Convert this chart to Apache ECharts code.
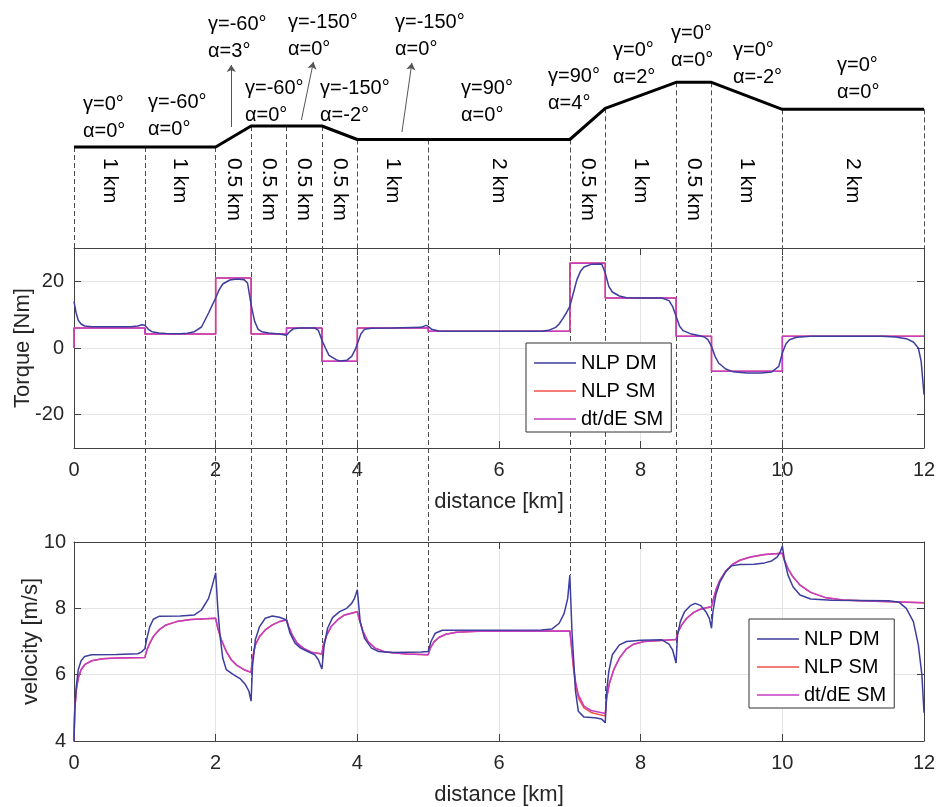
<!DOCTYPE html>
<html><head><meta charset="utf-8">
<script src="https://cdn.jsdelivr.net/npm/echarts@6/dist/echarts.min.js"></script>
<style>html,body{margin:0;padding:0;background:#fff}#c{width:938px;height:807px}</style>
</head><body><div id="c"></div>
<script>
// ---------------- data ----------------
const breakpoints = [0,1,2,2.5,3,3.5,4,5,7,7.5,8.5,9,10,12];
const profileElevation = [0,0,0,21,21,21,7.5,7.5,7.5,38.7,64.7,64.7,37.7,37.7];
const segmentLabels = ['1 km','1 km','0.5 km','0.5 km','0.5 km','0.5 km','1 km','2 km','0.5 km','1 km','0.5 km','1 km','2 km'];
const angleLabels = ['γ=0°\nα=0°','γ=-60°\nα=0°','γ=-60°\nα=3°','γ=-60°\nα=0°','γ=-150°\nα=0°','γ=-150°\nα=-2°','γ=-150°\nα=0°','γ=90°\nα=0°','γ=90°\nα=4°','γ=0°\nα=2°','γ=0°\nα=0°','γ=0°\nα=-2°','γ=0°\nα=0°'];
const angleLabelKm = [0.127,1.045,1.892,2.414,3.02,3.473,4.532,5.464,6.692,7.609,8.428,9.304,10.772];
const angleLabelElev = [56,58,136,72,138,72,138,72,84,110,127,110,95];
const arrowFrom = [[2.22,20],[3.21,27],[4.63,15]];
const arrowTo = [[2.22,82],[3.38,85],[4.77,84]];

const distanceTicks = [0,2,4,6,8,10,12];
const torqueTicks = [-20,0,20];
const velocityTicks = [4,6,8,10];

const torqueStart = 0;
const torqueNLPSM = [6,4.2,21,4.2,6,-4,6,5,25.5,15,3.5,-7,3.5];
const torqueDtdESM = [6,4.2,21,4.2,6,-4,6,5,25.4,15,3.5,-7,3.5];
const torqueNLPDM = [[0,14],[0.03,10.5],[0.06,8.3],[0.1,7.2],[0.15,6.6],[0.25,6.4],[0.5,6.35],[0.8,6.4],[0.9,6.6],[0.96,7.0],[1.0,6.8],[1.05,5.6],[1.1,4.9],[1.2,4.5],[1.3,4.35],[1.5,4.3],[1.6,4.4],[1.7,4.9],[1.8,6.3],[1.9,10.5],[1.95,12.8],[2.0,15.0],[2.05,17.5],[2.1,19.2],[2.2,20.4],[2.3,20.7],[2.4,20.5],[2.45,19.5],[2.5,13],[2.55,8],[2.6,5.6],[2.65,4.9],[2.75,4.5],[2.9,4.2],[3.0,3.8],[3.05,5.0],[3.1,5.8],[3.2,6.0],[3.4,6.0],[3.45,5.3],[3.5,2.3],[3.55,0],[3.6,-2.2],[3.7,-3.5],[3.75,-3.9],[3.85,-3.7],[3.92,-2.5],[3.97,-0.5],[4.0,1.3],[4.05,4.2],[4.1,5.6],[4.2,5.95],[4.5,6.0],[4.9,6.2],[4.97,6.8],[5.0,6.5],[5.05,5.6],[5.15,5.1],[5.3,5.0],[6.6,5.0],[6.7,5.3],[6.8,6.2],[6.85,7.2],[6.9,8.8],[6.95,10.5],[7.0,12.5],[7.05,16.5],[7.1,20.5],[7.15,23],[7.2,24.3],[7.3,25.1],[7.45,25.2],[7.5,22.5],[7.55,18.5],[7.6,16.8],[7.7,15.6],[7.8,15.1],[8.0,15.0],[8.3,15.0],[8.4,14.2],[8.45,12.5],[8.5,9.5],[8.55,6.5],[8.6,5.2],[8.7,4.3],[8.8,3.8],[8.9,3.3],[8.95,2.5],[9.0,0.5],[9.05,-2.5],[9.1,-4.5],[9.2,-6.3],[9.3,-7.1],[9.5,-7.5],[9.7,-7.5],[9.85,-7.2],[9.95,-5.5],[10.0,-1.5],[10.05,1.2],[10.1,2.5],[10.2,3.2],[10.4,3.5],[11.4,3.5],[11.6,3.3],[11.75,2.8],[11.85,1.8],[11.92,0],[11.96,-4],[12.0,-14]];

const velocityNLPDM = [[0,4.0],[0.01,4.9],[0.03,5.6],[0.06,6.15],[0.1,6.42],[0.15,6.55],[0.25,6.6],[0.6,6.61],[0.9,6.63],[0.95,6.68],[1.0,6.78],[1.03,7.1],[1.07,7.45],[1.12,7.67],[1.2,7.76],[1.5,7.77],[1.7,7.8],[1.8,7.95],[1.9,8.3],[1.95,8.67],[2.0,9.07],[2.03,8.0],[2.06,7.2],[2.1,6.5],[2.15,6.15],[2.25,6.0],[2.35,5.87],[2.42,5.7],[2.47,5.5],[2.5,5.2],[2.52,6.25],[2.56,7.05],[2.62,7.45],[2.7,7.7],[2.8,7.77],[2.9,7.73],[3.0,7.65],[3.05,7.25],[3.12,6.95],[3.2,6.8],[3.3,6.7],[3.4,6.6],[3.45,6.45],[3.5,6.17],[3.53,6.85],[3.58,7.4],[3.65,7.72],[3.75,7.9],[3.85,8.0],[3.92,8.15],[3.96,8.3],[4.0,8.56],[4.04,7.6],[4.1,7.1],[4.2,6.8],[4.3,6.7],[4.5,6.67],[4.9,6.68],[5.0,6.7],[5.04,7.0],[5.1,7.25],[5.2,7.34],[6.6,7.35],[6.75,7.38],[6.85,7.55],[6.92,7.85],[6.97,8.3],[7.0,9.0],[7.03,7.3],[7.08,5.5],[7.12,4.9],[7.2,4.72],[7.35,4.7],[7.45,4.66],[7.5,4.55],[7.52,5.5],[7.55,6.1],[7.6,6.6],[7.7,6.9],[7.8,7.0],[8.0,7.04],[8.3,7.05],[8.4,6.92],[8.45,6.75],[8.5,6.35],[8.52,7.2],[8.56,7.6],[8.62,7.9],[8.7,8.08],[8.77,8.15],[8.85,8.08],[8.92,7.9],[8.97,7.7],[9.0,7.4],[9.02,7.9],[9.06,8.4],[9.12,8.8],[9.2,9.1],[9.28,9.28],[9.4,9.32],[9.6,9.33],[9.75,9.37],[9.85,9.43],[9.93,9.55],[9.97,9.7],[10.0,9.88],[10.03,9.45],[10.08,9.0],[10.15,8.65],[10.25,8.4],[10.4,8.28],[10.7,8.24],[11.5,8.23],[11.65,8.18],[11.75,8.0],[11.85,7.6],[11.92,6.9],[11.97,6.0],[12.0,4.85]];

const velocityNLPSM = [[0,4.0],[0.01,4.9],[0.03,5.5],[0.06,5.9],[0.1,6.15],[0.15,6.3],[0.25,6.42],[0.4,6.48],[0.6,6.5],[1.0,6.52],[1.03,6.75],[1.07,6.95],[1.12,7.15],[1.2,7.35],[1.3,7.5],[1.45,7.6],[1.65,7.66],[2.0,7.7],[2.03,7.4],[2.08,7.05],[2.15,6.7],[2.22,6.45],[2.3,6.28],[2.4,6.15],[2.5,6.07],[2.52,6.5],[2.56,6.9],[2.62,7.15],[2.7,7.35],[2.8,7.5],[2.9,7.6],[3.0,7.65],[3.03,7.45],[3.08,7.2],[3.15,6.95],[3.25,6.78],[3.35,6.68],[3.5,6.62],[3.52,6.9],[3.57,7.2],[3.63,7.45],[3.72,7.65],[3.82,7.8],[4.0,7.9],[4.03,7.65],[4.08,7.3],[4.15,7.0],[4.25,6.8],[4.4,6.68],[4.7,6.62],[5.0,6.6],[5.03,6.8],[5.08,6.98],[5.15,7.12],[5.25,7.22],[5.4,7.28],[5.7,7.31],[7.0,7.32],[7.02,6.9],[7.05,6.2],[7.08,5.7],[7.12,5.3],[7.2,5.0],[7.3,4.86],[7.5,4.75],[7.52,5.3],[7.56,5.75],[7.62,6.15],[7.7,6.5],[7.8,6.78],[7.9,6.92],[8.05,7.0],[8.5,7.06],[8.53,7.3],[8.58,7.5],[8.65,7.7],[8.75,7.88],[8.85,7.98],[9.0,8.05],[9.03,8.3],[9.07,8.6],[9.12,8.85],[9.2,9.12],[9.3,9.33],[9.4,9.45],[9.55,9.55],[9.75,9.62],[10.0,9.66],[10.03,9.45],[10.08,9.2],[10.15,8.95],[10.25,8.7],[10.4,8.48],[10.6,8.33],[10.85,8.25],[11.2,8.22],[12.0,8.17]];

const velocityDtdESM = [[0,4.0],[0.01,4.9],[0.03,5.5],[0.06,5.9],[0.1,6.15],[0.15,6.3],[0.25,6.42],[0.4,6.48],[0.6,6.5],[1.0,6.52],[1.03,6.75],[1.07,6.95],[1.12,7.15],[1.2,7.35],[1.3,7.5],[1.45,7.6],[1.65,7.66],[2.0,7.7],[2.03,7.4],[2.08,7.05],[2.15,6.7],[2.22,6.45],[2.3,6.28],[2.4,6.15],[2.5,6.07],[2.52,6.5],[2.56,6.9],[2.62,7.15],[2.7,7.35],[2.8,7.5],[2.9,7.6],[3.0,7.65],[3.03,7.45],[3.08,7.2],[3.15,6.95],[3.25,6.78],[3.35,6.68],[3.5,6.62],[3.52,6.9],[3.57,7.2],[3.63,7.45],[3.72,7.65],[3.82,7.8],[4.0,7.9],[4.03,7.65],[4.08,7.3],[4.15,7.0],[4.25,6.8],[4.4,6.68],[4.7,6.62],[5.0,6.6],[5.03,6.8],[5.08,6.98],[5.15,7.12],[5.25,7.22],[5.4,7.28],[5.7,7.31],[7.0,7.32],[7.02,6.95],[7.05,6.3],[7.08,5.8],[7.12,5.4],[7.2,5.05],[7.3,4.92],[7.5,4.83],[7.52,5.3],[7.56,5.75],[7.62,6.15],[7.7,6.5],[7.8,6.78],[7.9,6.92],[8.05,7.0],[8.5,7.06],[8.53,7.3],[8.58,7.5],[8.65,7.7],[8.75,7.88],[8.85,7.98],[9.0,8.05],[9.03,8.3],[9.07,8.6],[9.12,8.85],[9.2,9.12],[9.3,9.33],[9.4,9.45],[9.55,9.55],[9.75,9.62],[10.0,9.66],[10.03,9.45],[10.08,9.2],[10.15,8.95],[10.25,8.7],[10.4,8.48],[10.6,8.33],[10.85,8.25],[11.2,8.22],[12.0,8.17]];

// ---------------- helpers ----------------
const FONT = '"Liberation Sans", Arial, Helvetica, sans-serif';
const TXT = '#262626';
const AX = '#404040';
const GRIDC = '#e4e4e4';
const DASH = {color:'#4d4d4d', width:1, type:[5,3], opacity:1};
const C_DM = '#3d3d9e', C_SM = '#f0504a', C_DT = '#c43ec4';

function stepPoints(start, vals){
  const pts = [[breakpoints[0], start]];
  vals.forEach((v,i)=>{ pts.push([breakpoints[i], v]); pts.push([breakpoints[i+1], v]); });
  return pts;
}
function valueAt(series, x){
  let best = null;
  series.forEach(p=>{ if (p[0]===x && (best===null || p[1]>best)) best = p[1]; });
  return best;
}
const inner = breakpoints.slice(1,-1);

const L = 74, R = 14;
const gridBase = {left:L, right:R, containLabel:false, outerBoundsMode:'none'};
const grids = [
  Object.assign({top:0, height:248}, gridBase),     // profile
  Object.assign({top:248, height:200}, gridBase),   // torque
  Object.assign({top:248, height:294}, gridBase),   // guide lines torque->velocity
  Object.assign({top:542, height:199}, gridBase)    // velocity
];
function hiddenX(g){ return {type:'value', gridIndex:g, min:0, max:12, show:false}; }
function mainX(g){
  return {type:'value', gridIndex:g, min:distanceTicks[0], max:distanceTicks[distanceTicks.length-1], interval:2, position:'bottom',
    axisLine:{show:true, onZero:false, lineStyle:{color:AX, width:1}},
    axisTick:{show:true, inside:true, length:7, lineStyle:{color:AX}},
    axisLabel:{show:true, color:TXT, fontSize:20, fontFamily:FONT, margin:12},
    splitLine:{show:true, lineStyle:{color:GRIDC, width:1}},
    name:'distance [km]', nameLocation:'middle', nameGap:43, nameMoveOverlap:false,
    nameTextStyle:{color:TXT, fontSize:22, fontFamily:FONT}};
}
function topX(g){
  return {type:'value', gridIndex:g, min:0, max:12, interval:2, position:'top',
    axisLine:{show:true, onZero:false, lineStyle:{color:AX, width:1}},
    axisTick:{show:true, inside:true, length:7, lineStyle:{color:AX}},
    axisLabel:{show:false}, splitLine:{show:false}};
}
const legendNames = ['NLP DM','NLP SM','dt/dE SM'];
const option = {
  animation:false,
  backgroundColor:'#ffffff',
  grid: grids,
  legend: [0,1].map(i=>({
    orient:'vertical',
    left: i===0 ? 526 : 749,
    top: i===0 ? 343 : 619,
    data: legendNames.map(n=>({name:n, icon:'rect'})),
    itemWidth:42, itemHeight:1.5, itemGap:6,
    padding:[9,8,2,8],
    borderColor:'#333', borderWidth:1, backgroundColor:'#fff',
    textStyle:{color:'#000', fontSize:20, fontFamily:FONT, lineHeight:22},
    selectedMode:false
  })),
  xAxis: [hiddenX(0), mainX(1), topX(1), hiddenX(2), mainX(3), topX(3)],
  yAxis: [
    {type:'value', gridIndex:0, min:-101, max:147, show:false},
    {type:'value', gridIndex:1, min:-30, max:30, position:'left',
      axisLine:{show:true, onZero:false, lineStyle:{color:AX}},
      axisTick:{show:true, inside:true, length:7, customValues:torqueTicks, lineStyle:{color:AX}},
      axisLabel:{show:true, customValues:torqueTicks, color:TXT, fontSize:20, fontFamily:FONT, margin:10},
      splitLine:{show:true, lineStyle:{color:GRIDC}},
      name:'Torque [Nm]', nameLocation:'middle', nameGap:40, nameMoveOverlap:false,
      nameTextStyle:{color:TXT, fontSize:22, fontFamily:FONT}},
    {type:'value', gridIndex:1, min:-30, max:30, position:'right',
      axisLine:{show:true, onZero:false, lineStyle:{color:AX}},
      axisTick:{show:true, inside:true, length:7, customValues:torqueTicks, lineStyle:{color:AX}},
      axisLabel:{show:false}, splitLine:{show:false}},
    {type:'value', gridIndex:2, min:0, max:1, show:false},
    {type:'value', gridIndex:3, min:velocityTicks[0], max:velocityTicks[velocityTicks.length-1], interval:2, position:'left',
      axisLine:{show:true, onZero:false, lineStyle:{color:AX}},
      axisTick:{show:true, inside:true, length:7, lineStyle:{color:AX}},
      axisLabel:{show:true, color:TXT, fontSize:20, fontFamily:FONT, margin:8},
      splitLine:{show:true, lineStyle:{color:GRIDC}},
      name:'velocity [m/s]', nameLocation:'middle', nameGap:32, nameMoveOverlap:false,
      nameTextStyle:{color:TXT, fontSize:22, fontFamily:FONT}},
    {type:'value', gridIndex:3, min:velocityTicks[0], max:velocityTicks[velocityTicks.length-1], interval:2, position:'right',
      axisLine:{show:true, onZero:false, lineStyle:{color:AX}},
      axisTick:{show:true, inside:true, length:7, lineStyle:{color:AX}},
      axisLabel:{show:false}, splitLine:{show:false}}
  ],
  series: [
    // profile dashed verticals
    {type:'lines', coordinateSystem:'cartesian2d', xAxisIndex:0, yAxisIndex:0, silent:true, z:1,
      lineStyle:DASH, symbol:'none',
      data: breakpoints.map((x,i)=>({coords:[[x, profileElevation[i]],[x,-101]]}))},
    // road profile
    {type:'line', xAxisIndex:0, yAxisIndex:0, symbol:'none', silent:true, z:5,
      lineStyle:{color:'#000', width:3}, data: breakpoints.map((x,i)=>[x, profileElevation[i]])},
    // arrows
    {type:'lines', coordinateSystem:'cartesian2d', xAxisIndex:0, yAxisIndex:0, silent:true, z:4,
      lineStyle:{color:'#555', width:1, opacity:1}, symbol:['none','arrow'], symbolSize:7,
      data: arrowFrom.map((p,i)=>({coords:[p, arrowTo[i]]}))},
    // angle labels
    {type:'scatter', xAxisIndex:0, yAxisIndex:0, symbolSize:0, silent:true, z:6,
      itemStyle:{opacity:1},
      data: angleLabels.map((t,i)=>[angleLabelKm[i], angleLabelElev[i], t]),
      label:{show:true, position:[0,0], align:'left', verticalAlign:'top', opacity:1,
        formatter:p=>p.data[2], color:'#000', fontSize:20, lineHeight:27, fontFamily:FONT}},
    // segment length labels
    {type:'scatter', xAxisIndex:0, yAxisIndex:0, symbolSize:0, silent:true, z:6,
      itemStyle:{opacity:1},
      data: segmentLabels.map((t,i)=>[(breakpoints[i]+breakpoints[i+1])/2, -11, t]),
      label:{show:true, position:[0,0], rotate:-90, align:'left', verticalAlign:'middle', opacity:1,
        formatter:p=>p.data[2], color:'#000', fontSize:21, fontFamily:FONT}},
    // guide dashed through torque plot to velocity plot
    {type:'lines', coordinateSystem:'cartesian2d', xAxisIndex:3, yAxisIndex:3, silent:true, z:1,
      lineStyle:DASH, symbol:'none',
      data: inner.map(x=>({coords:[[x,1],[x,0]]}))},
    // velocity dashed down to NLP DM curve
    {type:'lines', coordinateSystem:'cartesian2d', xAxisIndex:4, yAxisIndex:4, silent:true, z:1,
      lineStyle:DASH, symbol:'none',
      data: inner.map(x=>({coords:[[x,velocityTicks[velocityTicks.length-1]],[x,valueAt(velocityNLPDM,x)]]}))},
    // torque series
    {name:'NLP SM', type:'line', xAxisIndex:1, yAxisIndex:1, symbol:'none', z:3,
      lineStyle:{color:C_SM, width:1.5}, itemStyle:{color:C_SM}, data: stepPoints(torqueStart, torqueNLPSM)},
    {name:'dt/dE SM', type:'line', xAxisIndex:1, yAxisIndex:1, symbol:'none', z:3,
      lineStyle:{color:C_DT, width:1.5}, itemStyle:{color:C_DT}, data: stepPoints(torqueStart, torqueDtdESM)},
    {name:'NLP DM', type:'line', xAxisIndex:1, yAxisIndex:1, symbol:'none', z:3,
      lineStyle:{color:C_DM, width:1.5}, itemStyle:{color:C_DM}, data: torqueNLPDM},
    // velocity series
    {name:'NLP SM', type:'line', xAxisIndex:4, yAxisIndex:4, symbol:'none', z:3,
      lineStyle:{color:C_SM, width:1.5}, itemStyle:{color:C_SM}, data: velocityNLPSM},
    {name:'dt/dE SM', type:'line', xAxisIndex:4, yAxisIndex:4, symbol:'none', z:3,
      lineStyle:{color:C_DT, width:1.5}, itemStyle:{color:C_DT}, data: velocityDtdESM},
    {name:'NLP DM', type:'line', xAxisIndex:4, yAxisIndex:4, symbol:'none', z:3,
      lineStyle:{color:C_DM, width:1.5}, itemStyle:{color:C_DM}, data: velocityNLPDM}
  ]
};
const chart = echarts.init(document.getElementById('c'), null, {renderer:'canvas'});
chart.setOption(option);
</script>
</body></html>
